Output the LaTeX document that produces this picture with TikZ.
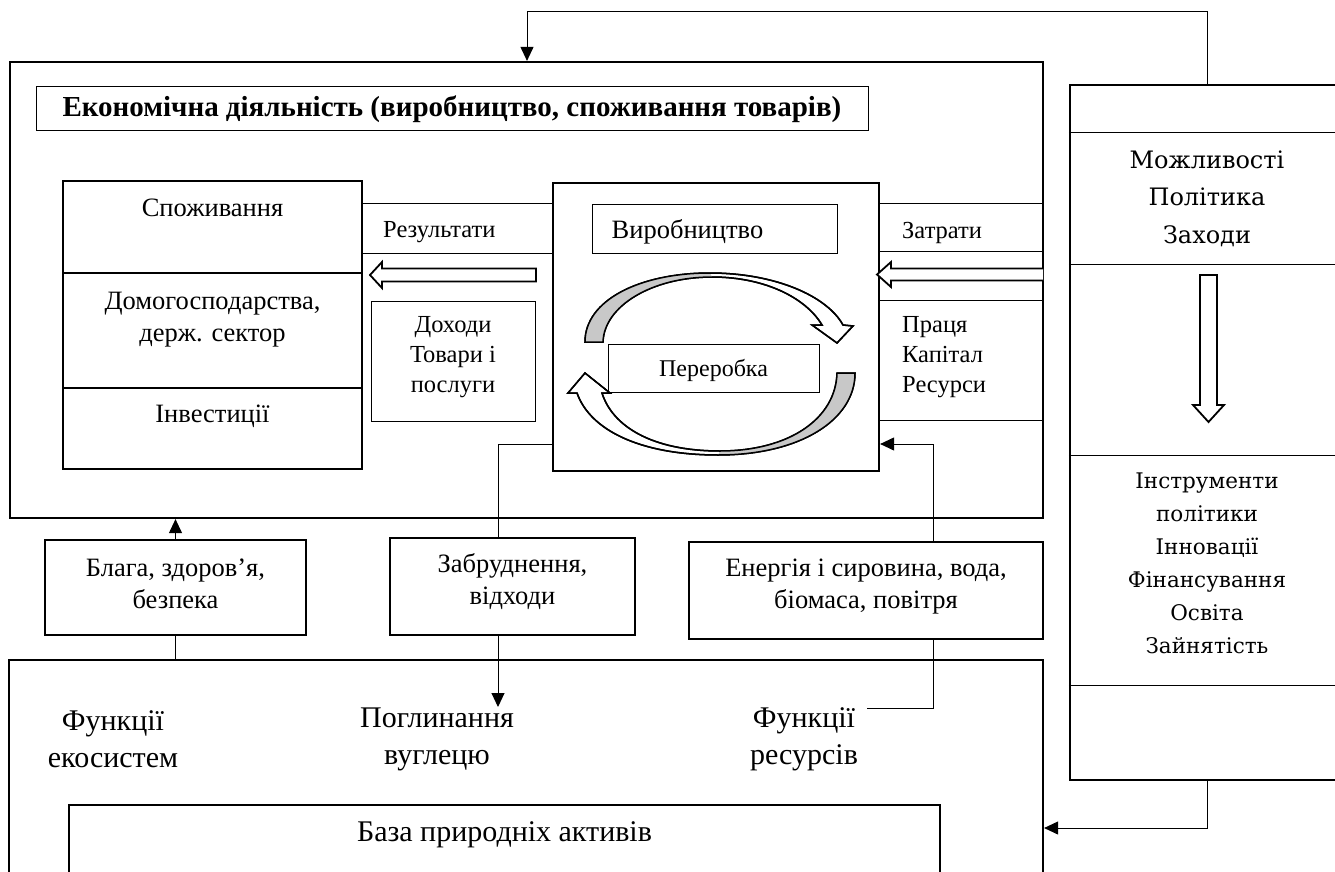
\documentclass[tikz,border=0pt]{standalone}
\usepackage{fontspec}
\setmainfont{Liberation Serif}
\newfontfamily\widefont{DejaVu Serif}
\usetikzlibrary{arrows.meta,positioning}
\definecolor{swirlgray}{RGB}{200,200,200}

\begin{document}
\begin{tikzpicture}[x=1pt,y=-1pt,>={Triangle[length=14pt,width=13pt]},
	heavy/.style={draw,line width=2.2pt,inner sep=0pt},
	mid/.style={draw,line width=1.6pt,inner sep=0pt},
	cell/.style={draw,line width=1pt,inner sep=0pt},
	txt/.style={font=\fontsize{26.5}{32}\selectfont,align=center,inner sep=0pt},
	small/.style={font=\fontsize{24.5}{30}\selectfont,align=left,inner sep=0pt},
	big/.style={font=\fontsize{30}{37}\selectfont,align=center,inner sep=0pt},
	wideup/.style={font=\widefont\fontsize{24}{37.5}\selectfont,align=center,inner sep=0pt},
	widelow/.style={font=\widefont\fontsize{21.5}{33}\selectfont,align=center,inner sep=0pt},
	link/.style={line width=1pt},
	hollow/.style={draw,line width=1.8pt,fill=white,line join=miter},
	swirl/.style={draw,line width=1.5pt,line join=miter}
	]
	\useasboundingbox (0,0) rectangle (1335,872);
	\clip (0,0) rectangle (1335,872);

	% economy
	\node[heavy,minimum width=1033pt,minimum height=456pt] (econ) at (526.5,290) {};
	\node[cell,minimum width=832pt,minimum height=44pt,font=\bfseries\fontsize{29}{32}\selectfont] (title) at (452,109) {Економічна діяльність (виробництво, споживання товарів)};

	\node[cell,line width=1.3pt,minimum width=299pt,minimum height=92pt] (cons1) at (212.5,227) {};
	\node[cell,line width=1.3pt,minimum width=299pt,minimum height=115pt] (cons2) at (212.5,330.5) {};
	\node[cell,line width=1.3pt,minimum width=299pt,minimum height=81pt] (cons3) at (212.5,428.5) {};
	\node[txt] (t1) at (212.5,208) {Споживання};
	\node[txt] (t2) at (212.5,320) {Домогосподарства,\\держ. сектор};
	\node[txt] (t3) at (212.5,416) {Інвестиції};

	\node[minimum width=191pt,minimum height=49pt,inner sep=0pt] (res) at (457.5,228.5) {};
	\draw[cell] (res.north west) -- (res.north east);
	\draw[cell] (res.south west) -- (res.south east);
	\node[small,anchor=west] (restxt) at (383,232) {Результати};

	\node[cell,minimum width=164pt,minimum height=120pt] (income) at (453,361) {};
	\node[small,align=center] (incometxt) at (453,357) {Доходи\\Товари і\\послуги};

	\draw[hollow] (536,268.5) -- (382,268.5) -- (382,262) -- (370,275) -- (382,288) -- (382,281.5) -- (536,281.5) -- cycle;

	% production
	\node[heavy,minimum width=326pt,minimum height=288pt] (prod) at (716,327) {};
	\node[cell,minimum width=245pt,minimum height=49pt] (vyr) at (714.5,228.5) {};
	\node[txt,right=20pt of vyr.west,yshift=-3pt] (vyrtxt) {Виробництво};
	\node[cell,fill=white,minimum width=211pt,minimum height=48pt] (proc) at (713.5,368) {};
	\node[font=\fontsize{24}{30}\selectfont,inner sep=0pt] (proctxt) at (713.5,370) {Переробка};

	\filldraw[swirl,fill=white] (585,342) .. controls (585,300) and (640,273) .. (710,273) .. controls (775,273) and (827,296) .. (843,325) -- (853,326) -- (837,343) -- (812,325) -- (822,325) .. controls (806,298) and (765,277) .. (712,277) .. controls (652,277) and (604,306) .. (603,342) -- cycle;
	\fill[swirlgray] (585,342) .. controls (585,300) and (640,273) .. (710,273) -- (712,277) .. controls (652,277) and (604,306) .. (603,342) -- cycle;
	\draw[swirl] (585,342) .. controls (585,300) and (640,273) .. (710,273) .. controls (775,273) and (827,296) .. (843,325) -- (853,326) -- (837,343) -- (812,325) -- (822,325) .. controls (806,298) and (765,277) .. (712,277) .. controls (652,277) and (604,306) .. (603,342) -- cycle;

	\filldraw[swirl,fill=white] (855,373) .. controls (855,420) and (800,455) .. (718,455) .. controls (640,455) and (590,430) .. (577,393) -- (568,393) -- (585,373) -- (610,393) -- (602,393) .. controls (612,425) and (650,451) .. (720,451) .. controls (790,451) and (836,418) .. (837,373) -- cycle;
	\fill[swirlgray] (855,373) .. controls (855,420) and (800,455) .. (718,455) -- (720,451) .. controls (790,451) and (836,418) .. (837,373) -- cycle;
	\draw[swirl] (855,373) .. controls (855,420) and (800,455) .. (718,455) .. controls (640,455) and (590,430) .. (577,393) -- (568,393) -- (585,373) -- (610,393) -- (602,393) .. controls (612,425) and (650,451) .. (720,451) .. controls (790,451) and (836,418) .. (837,373) -- cycle;

	% inputs
	\node[minimum width=164pt,minimum height=47pt,inner sep=0pt] (inp) at (961,227.5) {};
	\draw[cell] (inp.north west) -- (inp.north east);
	\draw[cell] (inp.south west) -- (inp.south east);
	\node[small,anchor=west] (inptxt) at (902,233) {Затрати};
	\node[minimum width=164pt,minimum height=119pt,inner sep=0pt] (factors) at (961,360.5) {};
	\draw[cell] (factors.north west) -- (factors.north east);
	\draw[cell] (factors.south west) -- (factors.south east);
	\node[small,anchor=west] (factorstxt) at (902,357) {Праця\\Капітал\\Ресурси};

	\draw[hollow] (1043,268.5) -- (891,268.5) -- (891,262) -- (877,274.5) -- (891,287) -- (891,280.5) -- (1043,280.5);

	% flows
	\node[mid,minimum width=261pt,minimum height=95pt] (goods) at (175.5,587.5) {};
	\node[txt] (goodstxt) at (175.5,584) {Блага, здоров’я,\\безпека};
	\node[mid,minimum width=245pt,minimum height=97pt] (waste) at (512.5,586.5) {};
	\node[txt] (wastetxt) at (512.5,582) {Забруднення,\\відходи};
	\node[mid,minimum width=354pt,minimum height=97pt] (energy) at (866,590.5) {};
	\node[txt] (energytxt) at (866,587) {Енергія і сировина, вода,\\біомаса, повітря};

	% nature
	\node[heavy,minimum width=1034pt,minimum height=240pt] (nature) at (526,780) {};
	\node[big] (f1) at (113,739) {Функції\\екосистем};
	\node[big] (f2) at (437,739) {Поглинання\\вуглецю};
	\node[big] (f3) at (804,739) {Функції\\ресурсів};
	\node[heavy,minimum width=871pt,minimum height=95pt] (base) at (504.5,852.5) {};
	\node[big] (basetxt) at (504.5,835) {База природніх активів};

	% policy
	\node[heavy,minimum width=275pt,minimum height=695pt] (policy) at (1207.5,432.5) {};
	\foreach \yy in {133,264,455,685}
		\draw[cell] (policy.west |- 0,\yy) -- (policy.east |- 0,\yy);
	\node[wideup] (ptop) at (1207,198.5) {Можливості\\Політика\\Заходи};
	\node[widelow] (plow) at (1207,563.5) {Інструменти\\політики\\Інновації\\Фінансування\\Освіта\\Зайнятість};
	\draw[hollow] (1200,275) -- (1200,405) -- (1193,405) -- (1208.5,422) -- (1224,405) -- (1217,405) -- (1217,275) -- cycle;

	% connectors
	\coordinate (wastebend) at (498,444);
	\coordinate (sink) at (498,707);
	\draw[link] (prod.west |- wastebend) -- (wastebend) -- (wastebend |- waste.north);
	\draw[link,->] (wastebend |- waste.south) -- (sink);

	\coordinate (energybend) at (933,444);
	\coordinate (resfun) at (867,708);
	\draw[link] (resfun) -- (energybend |- resfun) -- (energybend |- energy.south);
	\draw[link,->] (energybend |- energy.north) -- (energybend) -- (prod.east |- energybend);

	\draw[link] (goods.south) -- (goods.south |- nature.north);
	\draw[link,->] (goods.north) -- (goods.north |- econ.south);

	\coordinate (fbin) at (527,12);
	\coordinate (fbback) at (1207,828);
	\draw[link,->] (policy.north -| fbback) -- (fbback |- fbin) -- (fbin) -- (fbin |- econ.north);
	\draw[link,->] (policy.south -| fbback) -- (fbback) -- (nature.east |- fbback);
\end{tikzpicture}
\end{document}
